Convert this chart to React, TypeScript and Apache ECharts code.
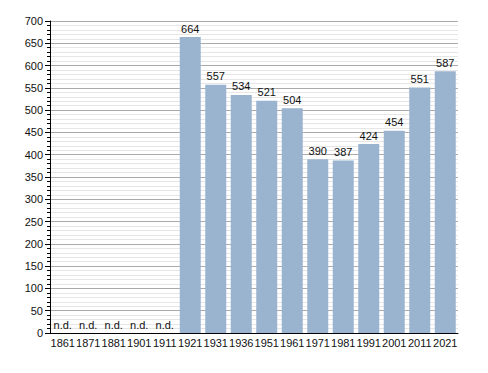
import React, { useEffect, useRef } from "react";
import * as echarts from "echarts";

const years = ["1861", "1871", "1881", "1901", "1911", "1921", "1931", "1936", "1951", "1961", "1971", "1981", "1991", "2001", "2011", "2021"];
const population: (number | null)[] = [null, null, null, null, null, 664, 557, 534, 521, 504, 390, 387, 424, 454, 551, 587];
const yTicks = { min: 0, max: 700, interval: 50 };

export default function App() {
  const ref = useRef<HTMLDivElement>(null);
  useEffect(() => {
    const chart = echarts.init(ref.current!, null, { renderer: "svg" });
    const font = "Liberation Sans, Arial, sans-serif";
    const data = population.map((v) =>
      v === null
        ? { value: 0, label: { formatter: "n.d." } }
        : { value: v }
    );
    chart.setOption({
      animation: false,
      grid: { left: 50, top: 21, right: 30, bottom: 40 },
      xAxis: {
        type: "category",
        data: years,
        axisLine: { lineStyle: { color: "#000", width: 1 } },
        axisTick: { show: false },
        axisLabel: { color: "#111", fontSize: 11, fontFamily: font, margin: 4, interval: 0 },
      },
      yAxis: {
        type: "value",
        min: yTicks.min,
        max: yTicks.max,
        interval: yTicks.interval,
        axisLine: { show: true, lineStyle: { color: "#000", width: 1 } },
        axisTick: { show: true, length: 5, lineStyle: { color: "#000" } },
        minorTick: { show: true, splitNumber: 5, length: 3, lineStyle: { color: "#000" } },
        axisLabel: { color: "#111", fontSize: 11, fontFamily: font, margin: 7 },
        splitLine: { show: true, lineStyle: { color: "#aaaaaa", width: 1 } },
        minorSplitLine: { show: true, lineStyle: { color: "#e6e6e6", width: 1 } },
      },
      series: [
        {
          type: "bar",
          data,
          barWidth: 21,
          itemStyle: { color: "#9ab3cf" },
          label: {
            show: true,
            position: "top",
            distance: 3,
            color: "#111",
            fontSize: 11,
            fontFamily: font,
          },
        },
      ],
    });
    return () => chart.dispose();
  }, []);
  return <div ref={ref} style={{ width: 488, height: 373, position: "absolute", left: 0, top: 0, background: "#fff" }} />;
}
